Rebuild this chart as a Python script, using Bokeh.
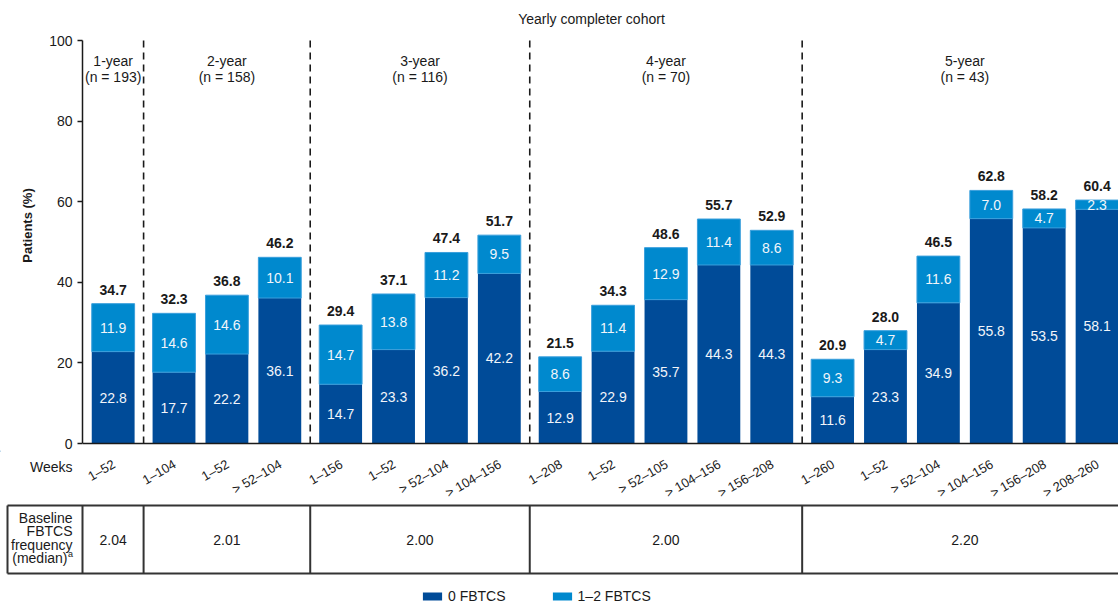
import math
from bokeh.plotting import figure
from bokeh.models import Range1d, FixedTicker, Span, Legend, LegendItem
from bokeh.layouts import column
from bokeh.core.properties import value
from bokeh.embed import file_html
from bokeh.resources import INLINE

# ---------------- data ----------------
group_names = ["1-year", "2-year", "3-year", "4-year", "5-year"]
group_n = [193, 158, 116, 70, 43]
baseline_freq = ["2.04", "2.01", "2.00", "2.00", "2.20"]

week_labels = ["1–52",
               "1–104", "1–52", "> 52–104",
               "1–156", "1–52", "> 52–104", "> 104–156",
               "1–208", "1–52", "> 52–105", "> 104–156", "> 156–208",
               "1–260", "1–52", "> 52–104", "> 104–156", "> 156–208", "> 208–260"]
bar_group = [0, 1, 1, 1, 2, 2, 2, 2, 3, 3, 3, 3, 3, 4, 4, 4, 4, 4, 4]
zero_fbtcs = [22.8, 17.7, 22.2, 36.1, 14.7, 23.3, 36.2, 42.2, 12.9, 22.9, 35.7,
              44.3, 44.3, 11.6, 23.3, 34.9, 55.8, 53.5, 58.1]
one_two_fbtcs = [11.9, 14.6, 14.6, 10.1, 14.7, 13.8, 11.2, 9.5, 8.6, 11.4, 12.9,
                 11.4, 8.6, 9.3, 4.7, 11.6, 7.0, 4.7, 2.3]
totals = [34.7, 32.3, 36.8, 46.2, 29.4, 37.1, 47.4, 51.7, 21.5, 34.3, 48.6,
          55.7, 52.9, 20.9, 28.0, 46.5, 62.8, 58.2, 60.4]

# ---------------- styling ----------------
FONT = value("Liberation Sans")
DARK = "#004B98"
LIGHT = "#0089CE"
INK = "#1a1a1a"
W, H1, H2 = 1118, 450, 154
LEFT = 82
GROUP_GAP = 0.15
BAR_W = 0.81

xs = [i + GROUP_GAP * g for i, g in enumerate(bar_group)]
seps = []
for i in range(1, len(xs)):
    if bar_group[i] != bar_group[i - 1]:
        seps.append((xs[i] + xs[i - 1]) / 2)
group_centers = []
for g in range(len(group_names)):
    gx = [x for x, gg in zip(xs, bar_group) if gg == g]
    group_centers.append((gx[0] + gx[-1]) / 2)

start1 = xs[0] - 0.58
end1 = xs[-1] + BAR_W / 2
ppu = (W - LEFT) / (end1 - start1)
start2 = start1 - LEFT / ppu


def u(px):
    return start2 + px / ppu


y0px, y100px = 443, 40
upp = 100 / (y0px - y100px)

# ---------------- chart figure ----------------
p1 = figure(width=W, height=H1, output_backend="svg", toolbar_location=None,
            x_range=Range1d(start1, end1),
            y_range=Range1d(-(H1 - y0px) * upp, 100 + y100px * upp),
            x_axis_location=None, min_border=0, min_border_left=LEFT,
            min_border_right=0, min_border_top=0, min_border_bottom=0)
p1.frame_align = False
p1.outline_line_color = None
p1.xgrid.visible = False
p1.ygrid.visible = False

ax = p1.yaxis[0]
ax.ticker = FixedTicker(ticks=[0, 20, 40, 60, 80, 100])
ax.bounds = (0, 100)
ax.axis_line_color = INK
ax.axis_line_width = 1.5
ax.major_tick_line_color = INK
ax.major_tick_line_width = 1.5
ax.major_tick_out = 5
ax.major_tick_in = 0
ax.minor_tick_line_color = None
ax.major_label_standoff = 5
ax.major_label_text_font = "Liberation Sans"
ax.major_label_text_font_size = "14px"
ax.major_label_text_color = INK
ax.axis_label = "Patients (%)"
ax.axis_label_text_font = "Liberation Sans"
ax.axis_label_text_font_style = "bold"
ax.axis_label_text_font_size = "13px"
ax.axis_label_text_color = INK
ax.axis_label_standoff = 11

mid_zero = [z / 2 for z in zero_fbtcs]
mid_one = [z + o / 2 for z, o in zip(zero_fbtcs, one_two_fbtcs)]

r_dark = p1.vbar(x=xs, bottom=0, top=zero_fbtcs, width=BAR_W,
                 fill_color=DARK, line_color=None)
r_light = p1.vbar(x=xs, bottom=zero_fbtcs, top=totals, width=BAR_W,
                  fill_color=LIGHT, line_color="#3a9fdc", line_width=1)

p1.text(x=xs, y=mid_zero, text=[f"{v:.1f}" for v in zero_fbtcs],
        text_font=FONT, text_font_size="14px", text_color="#f2f5fa",
        text_align="center", text_baseline="middle")
p1.text(x=xs, y=mid_one, text=[f"{v:.1f}" for v in one_two_fbtcs],
        text_font=FONT, text_font_size="14px", text_color="#f2f5fa",
        text_align="center", text_baseline="middle")
p1.text(x=xs, y=totals, text=[f"{v:.1f}" for v in totals],
        text_font=FONT, text_font_size="14px", text_font_style="bold",
        text_color=INK, text_align="center", text_baseline="bottom", y_offset=-9)

p1.segment(x0=seps, y0=0, x1=seps, y1=100, line_color=INK, line_width=1.6,
           line_dash="7 5")
p1.add_layout(Span(location=0, dimension="width", line_color=INK, line_width=1.5))

p1.text(x=group_centers, y=100, text=group_names, text_font=FONT,
        text_font_size="14px", text_color=INK, text_align="center",
        text_baseline="middle", y_offset=20)
p1.text(x=group_centers, y=100, text=[f"(n = {n})" for n in group_n],
        text_font=FONT, text_font_size="14px", text_color=INK,
        text_align="center", text_baseline="middle", y_offset=36)
p1.text(x=[(start1 + end1) / 2], y=[100], text=["Yearly completer cohort"],
        text_font=FONT, text_font_size="14px", text_color=INK,
        text_align="center", text_baseline="middle", x_offset=-9, y_offset=-22)

# ---------------- labels / table figure ----------------
p2 = figure(width=W, height=H2, output_backend="svg", toolbar_location=None,
            x_range=Range1d(start2, end1), y_range=Range1d(H2, 0),
            x_axis_location=None, y_axis_location=None, min_border=0,
            min_border_left=0, min_border_right=0, min_border_top=0,
            min_border_bottom=0)
p2.frame_align = False
p2.outline_line_color = None
p2.xgrid.visible = False
p2.ygrid.visible = False

p2.text(x=[u(72)], y=[16], text=["Weeks"], text_font=FONT, text_font_size="14px",
        text_color=INK, text_align="right", text_baseline="middle")
p2.text(x=xs, y=6, text=week_labels, text_font=FONT, text_font_size="13px",
        text_color=INK, text_align="right", text_baseline="top",
        angle=math.pi / 6, x_offset=-3)

tbl_top, tbl_bot = 55, 123
p2.segment(x0=[u(7), u(7)], y0=[tbl_top, tbl_bot], x1=[end1, end1],
           y1=[tbl_top, tbl_bot], line_color="#333333", line_width=2)
vx = [u(7), start1] + seps
p2.segment(x0=vx, y0=tbl_top, x1=vx, y1=tbl_bot, line_color="#333333", line_width=2)

p2.text(x=[u(72)] * 3, y=[67, 80.5, 94], text=["Baseline", "FBTCS", "frequency"],
        text_font=FONT, text_font_size="14px", text_color=INK,
        text_align="right", text_baseline="middle")
p2.text(x=[u(67)], y=[107.5], text=["(median)"], text_font=FONT,
        text_font_size="14px", text_color=INK, text_align="right",
        text_baseline="middle")
p2.text(x=[u(67.5)], y=[103], text=["a"], text_font=FONT, text_font_size="9px",
        text_color=INK, text_align="left", text_baseline="middle")
p2.text(x=group_centers, y=89, text=baseline_freq, text_font=FONT,
        text_font_size="14px", text_color=INK, text_align="center",
        text_baseline="middle")

# legend swatches (kept outside the visible x-range; shown only in the legend)
hidden_x = [start2 - 5]
d0 = p2.vbar(x=hidden_x, bottom=[0], top=[1], width=0.8, fill_color=DARK,
             line_color=None)
d1 = p2.vbar(x=hidden_x, bottom=[0], top=[1], width=0.8, fill_color=LIGHT,
             line_color=None)
legend = Legend(items=[LegendItem(label="0 FBTCS", renderers=[d0]),
                       LegendItem(label="1–2 FBTCS", renderers=[d1])],
                orientation="horizontal", location=(420, 0),
                glyph_width=24, glyph_height=10, label_standoff=4, spacing=44,
                label_height=14, padding=0, margin=0, border_line_color=None,
                background_fill_alpha=0, label_text_font="Liberation Sans",
                label_text_font_size="14px", label_text_color=INK)
p2.add_layout(legend)

layout = column(p1, p2, spacing=0)
open("out.html", "w").write(file_html(layout, INLINE))
